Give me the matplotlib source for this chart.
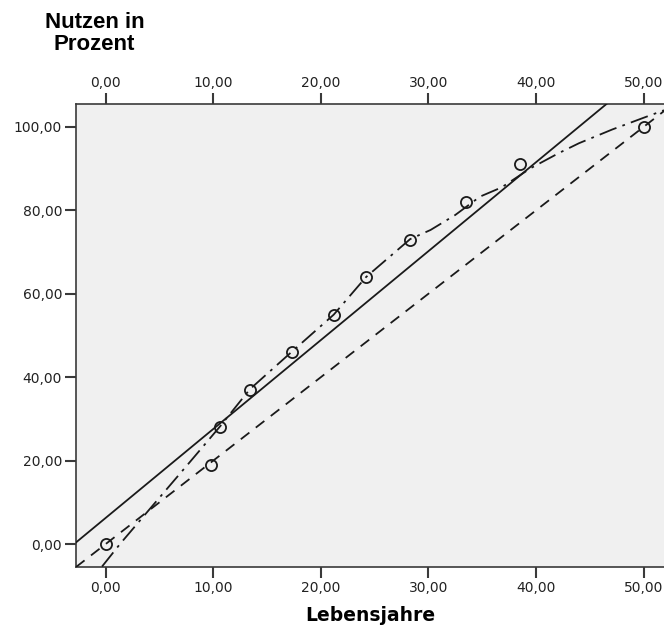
import numpy as np
import matplotlib.pyplot as plt

# Lebensjahre vs. Nutzen in Prozent
jahre = [0.0, 9.8, 10.6, 13.4, 17.3, 21.2, 24.2, 28.3, 33.5, 38.5, 50.0]
nutzen = [0.0, 19.0, 28.0, 37.0, 46.0, 55.0, 64.0, 73.0, 82.0, 91.0, 100.0]

# smoother (dash-dot)
glatt_x = [-0.34, 1.33, 4.28, 7.84, 10.6, 13.4, 17.3, 21.2, 24.2, 28.3,
           30.2, 32.5, 34.8, 36.8, 39.5, 42.1, 44.0, 47.1, 49.9, 51.9]
glatt_y = [-5.4, 0.0, 8.95, 19.7, 28.1, 37.1, 46.1, 55.0, 64.0, 73.1,
           75.3, 78.9, 83.3, 85.5, 90.1, 93.7, 96.1, 99.4, 102.1, 104.0]

# diagonal reference line (dashed)
diag_steigung = 2.0

xticks = [0, 10, 20, 30, 40, 50]
yticks = [0, 20, 40, 60, 80, 100]
xlim = (-2.76, 51.9)
ylim = (-5.44, 105.5)

def fmt(v):
    return ('%.2f' % v).replace('.', ',')

fig = plt.figure(figsize=(6.64, 6.34), dpi=100)
ax = fig.add_axes([76 / 664, 1 - 566.7 / 634, 588 / 664, (566.7 - 104) / 634])
ax.set_facecolor('#f0f0f0')

xs = np.array(xlim)
b, a = np.polyfit(jahre, nutzen, 1)
ax.plot(xs, a + b * xs, color='#1a1a1a', lw=1.3, zorder=3)
ax.plot(xs, diag_steigung * xs, color='#1a1a1a', lw=1.3, dashes=(6, 4.5), zorder=3)
ax.plot(glatt_x, glatt_y, color='#1a1a1a', lw=1.3, dashes=(10, 3.5, 1.5, 3.5), zorder=3)
ax.plot(jahre, nutzen, 'o', ms=8, mfc='none', mec='#1a1a1a', mew=1.3, zorder=4)

ax.set_xlim(*xlim)
ax.set_ylim(*ylim)

for s in ['left', 'top', 'bottom']:
    ax.spines[s].set_color('#3a3a3a')
    ax.spines[s].set_linewidth(1.2)
ax.spines['right'].set_visible(False)

ax.set_xticks(xticks)
ax.set_xticklabels([fmt(v) for v in xticks])
ax.set_yticks(yticks)
ax.set_yticklabels([fmt(v) for v in yticks])
ax.tick_params(axis='both', direction='out', length=8, width=1.5, color='#3a3a3a',
               labelsize=10, labelcolor='#222222', pad=2)
ax.tick_params(axis='x', top=True, labeltop=True)

ax.set_xlabel('Lebensjahre', fontsize=13.5, fontweight='bold', family='DejaVu Sans', labelpad=8)
fig.text(94.5 / 664, 1 - 12 / 634, 'Nutzen in\nProzent', ha='center', va='top',
         fontsize=16, fontweight='bold', family='Liberation Sans', linespacing=1.05)

fig.savefig('out.png', dpi=100)
